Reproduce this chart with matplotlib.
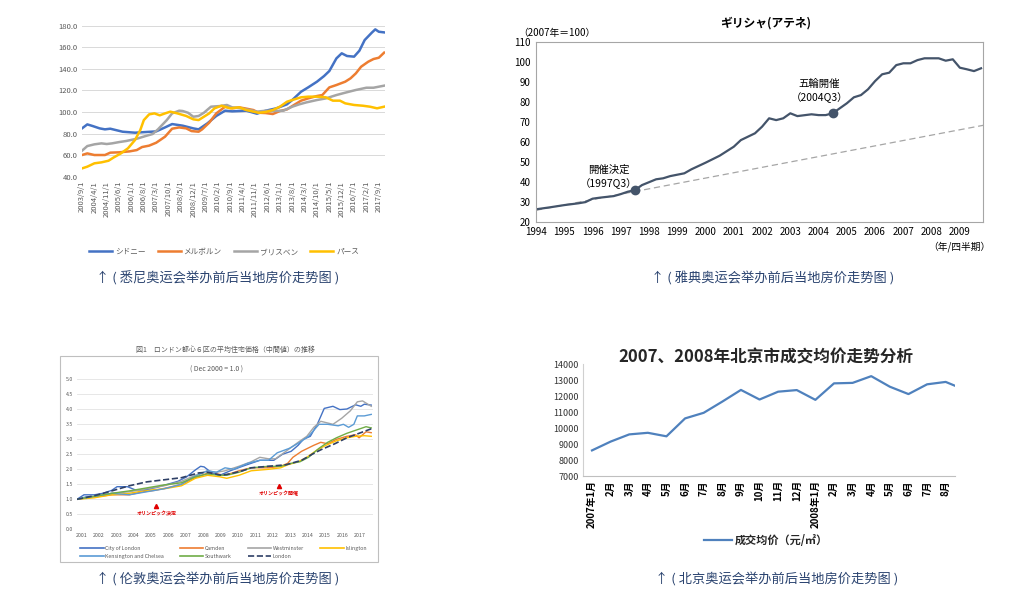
import numpy as np
import matplotlib.pyplot as plt
from matplotlib.lines import Line2D
from matplotlib.patches import Rectangle

plt.rcParams['font.family'] = ['Noto Sans CJK JP', 'DejaVu Sans']
SC = ['Noto Sans CJK SC', 'DejaVu Sans']

# ---- Sydney etc. (month index from 2003/9) ----
syd_ticks = ['2003/9/1', '2004/4/1', '2004/11/1', '2005/6/1', '2006/1/1', '2006/8/1',
             '2007/3/1', '2007/10/1', '2008/5/1', '2008/12/1', '2009/7/1', '2010/2/1',
             '2010/9/1', '2011/4/1', '2011/11/1', '2012/6/1', '2013/1/1', '2013/8/1',
             '2014/3/1', '2014/10/1', '2015/5/1', '2015/12/1', '2016/7/1', '2017/2/1',
             '2017/9/1']
syd_m = [0, 3, 6, 10, 13, 16, 19, 23, 30, 36, 42, 47, 51, 57, 63, 66, 71, 76, 81, 85,
         93, 99, 104, 110, 116, 119, 124, 128, 133, 137, 140, 144, 147, 150, 154, 157,
         160, 164, 166, 168, 171]
syd_v = [84.8, 88.5, 87, 84.8, 83.9, 84.5, 83.3, 81.7, 80.8, 81.4, 82, 85.7, 88.8, 87.3,
         84.8, 83.9, 89.5, 96.3, 101.2, 100.6, 101.2, 98.4, 101.2, 103.4, 107.1, 111.1,
         118.8, 122.8, 128.1, 133.3, 138, 149.7, 154.4, 151.9, 151.3, 156.8, 166.7, 173.5,
         176.6, 174.4, 173.8]
mel_m = [0, 3, 7, 13, 16, 21, 27, 31, 34, 38, 42, 47, 51, 55, 59, 62, 66, 68, 72, 76,
         81, 85, 89, 93, 97, 100, 104, 108, 112, 116, 119, 124, 128, 133, 136, 140, 144,
         149, 152, 155, 158, 162, 165, 168, 171]
mel_v = [60.1, 61.6, 60.1, 60.1, 62.3, 62.6, 63.5, 64.7, 67.5, 68.8, 71.5, 77.1, 84.5,
         85.7, 84.8, 82.3, 81.7, 83.9, 90.1, 98.7, 104.9, 103.4, 104.3, 103.1, 101.8, 99.3,
         99, 98.1, 100.9, 102.4, 105.5, 110.5, 112.6, 114.8, 115.7, 122.8, 125, 128.1,
         131.2, 135.8, 142, 146.6, 149.1, 150.3, 155]
bri_m = [0, 3, 7, 11, 14, 17, 21, 25, 31, 36, 40, 43, 48, 51, 55, 57, 60, 63, 66, 69,
         73, 78, 82, 85, 89, 93, 99, 104, 108, 114, 119, 123, 127, 133, 138, 144, 149,
         155, 161, 165, 171]
bri_v = [64.1, 68.4, 70, 70.9, 70.3, 70.9, 72.1, 73.1, 75.2, 77.7, 79.6, 83.9, 92.5,
         98.7, 101.2, 100.9, 99.3, 95.6, 96.3, 99.3, 104.9, 105.5, 106.5, 104.3, 103.7,
         102.4, 100.3, 101.2, 100.9, 101.2, 104.9, 107.1, 108.9, 111.1, 112.6, 115.7,
         117.9, 120.4, 122.5, 122.5, 124.4]
per_m = [0, 3, 7, 11, 15, 18, 22, 26, 30, 33, 35, 38, 41, 44, 47, 50, 54, 59, 63, 66,
         69, 72, 75, 79, 82, 84, 89, 93, 97, 100, 104, 108, 112, 116, 119, 124, 128, 133,
         138, 142, 146, 149, 154, 159, 163, 167, 171]
per_v = [47.7, 49.3, 52.4, 53.3, 54.8, 57.9, 61.6, 66.3, 74, 83.3, 92.5, 97.8, 98.7,
         96.9, 98.7, 100.3, 98.7, 96.3, 93.2, 92.5, 95.6, 98.7, 103.4, 105.8, 104.3, 103.4,
         104.3, 101.8, 100.3, 99.3, 100, 101.8, 104.9, 109.5, 111.1, 113.6, 114.2, 114.2,
         113.6, 110.5, 110.5, 108, 106.5, 105.8, 104.9, 103.4, 104.9]
syd_names = ['シドニー', 'メルボルン', 'ブリスベン', 'パース']

# ---- Athens (quarterly) ----
ath_x = [1994.0, 1994.5, 1995.0, 1995.5, 1995.75, 1996.0, 1996.25, 1996.75, 1997.0,
         1997.25, 1997.5, 1997.75, 1998.25, 1998.5, 1998.75, 1999.25, 1999.5, 2000.0,
         2000.5, 2001.0, 2001.25, 2001.75, 2002.0, 2002.25, 2002.5, 2002.75, 2003.0,
         2003.25, 2003.75, 2004.0, 2004.25, 2004.5, 2005.0, 2005.25, 2005.5, 2005.75,
         2006.0, 2006.25, 2006.5, 2006.75, 2007.0, 2007.25, 2007.5, 2007.75, 2008.25,
         2008.5, 2008.75, 2009.0, 2009.25, 2009.5, 2009.75]
ath_v = [26.2, 27.2, 28.3, 29.2, 29.8, 31.5, 32, 32.8, 33.8, 35, 35.8, 38.3, 41.2, 41.7,
         42.8, 44.2, 46.2, 49.5, 53, 57.5, 60.8, 64.2, 67.5, 71.7, 70.8, 71.7, 74.2, 72.8,
         73.7, 73.3, 73.3, 74.2, 79.2, 82.2, 83.3, 86.2, 90.3, 93.7, 94.5, 98.3, 99.2,
         99.2, 100.8, 101.7, 101.7, 100.5, 101.2, 97, 96.2, 95.3, 96.7]
trend_x = [1994.0, 2009.83]
trend_v = [25.7, 68.2]
ath_events = [1997.5, 2004.5]

# ---- London (decimal years, Dec 2000 = 1.0) ----
city_x = [2001.0, 2001.4, 2002.0, 2002.5, 2003.0, 2003.3, 2003.9, 2004.4, 2005.0, 2005.6,
          2006.2, 2006.8, 2007.3, 2007.8, 2008.1, 2008.3, 2008.7, 2009.2, 2009.8, 2010.5,
          2011.0, 2011.5, 2012.3, 2012.8, 2013.3, 2013.7, 2014.0, 2014.4, 2014.8, 2015.2,
          2015.7, 2016.1, 2016.5, 2017.0, 2017.3, 2017.5, 2017.9]
city_v = [1.0, 1.15, 1.15, 1.2, 1.3, 1.42, 1.42, 1.3, 1.33, 1.4, 1.5, 1.6, 1.75, 1.98,
          2.1, 2.08, 1.9, 1.8, 1.95, 2.1, 2.2, 2.3, 2.3, 2.5, 2.6, 2.8, 3.0, 3.1, 3.5,
          4.03, 4.1, 3.99, 4.01, 4.15, 4.1, 4.17, 4.14]
cam_x = [2001.0, 2002.0, 2003.0, 2004.0, 2004.8, 2005.5, 2006.3, 2007.0, 2007.7, 2008.4,
         2009.0, 2009.5, 2010.3, 2011.0, 2012.0, 2012.7, 2013.1, 2013.4, 2013.9, 2014.6,
         2015.0, 2015.4, 2015.9, 2016.5, 2017.0, 2017.2, 2017.6, 2017.9]
cam_v = [1.0, 1.08, 1.15, 1.15, 1.25, 1.3, 1.4, 1.5, 1.7, 1.85, 1.85, 1.8, 1.95, 2.05,
         2.05, 2.1, 2.2, 2.4, 2.6, 2.8, 2.9, 2.85, 3.0, 3.1, 3.15, 3.05, 3.25, 3.22]
wst_x = [2001.0, 2002.0, 2003.0, 2004.0, 2005.0, 2006.0, 2007.0, 2007.8, 2008.5, 2009.0,
         2009.5, 2010.3, 2011.0, 2011.5, 2012.0, 2012.4, 2013.0, 2013.7, 2014.2, 2014.6,
         2015.0, 2015.7, 2016.2, 2016.7, 2017.1, 2017.4, 2017.9]
wst_v = [1.0, 1.1, 1.2, 1.25, 1.35, 1.45, 1.6, 1.8, 1.95, 1.9, 1.95, 2.1, 2.25, 2.4,
         2.35, 2.35, 2.6, 2.9, 3.1, 3.4, 3.6, 3.5, 3.7, 3.95, 4.25, 4.28, 4.1]
isl_x = [2001.0, 2002.0, 2003.0, 2004.0, 2005.0, 2006.0, 2007.0, 2007.8, 2008.5, 2009.2,
         2009.6, 2010.3, 2011.0, 2012.0, 2012.7, 2013.1, 2013.7, 2014.2, 2014.8, 2015.3,
         2015.9, 2016.5, 2017.0, 2017.5, 2017.9]
isl_v = [1.0, 1.05, 1.15, 1.2, 1.3, 1.35, 1.45, 1.7, 1.8, 1.75, 1.7, 1.8, 1.95, 2.0,
         2.05, 2.15, 2.25, 2.4, 2.65, 2.8, 2.95, 3.05, 3.1, 3.12, 3.1]
ken_x = [2001.0, 2001.5, 2002.0, 2003.0, 2004.0, 2005.0, 2006.0, 2007.0, 2007.7, 2008.5,
         2009.0, 2009.5, 2010.0, 2010.8, 2011.5, 2012.0, 2012.5, 2013.2, 2013.8, 2014.3,
         2014.9, 2015.4, 2016.0, 2016.3, 2016.6, 2016.9, 2017.1, 2017.5, 2017.9]
ken_v = [1.0, 1.08, 1.1, 1.2, 1.15, 1.25, 1.35, 1.5, 1.75, 1.95, 1.9, 2.05, 2.0, 2.2,
         2.3, 2.3, 2.55, 2.7, 2.9, 3.1, 3.5, 3.5, 3.45, 3.5, 3.4, 3.5, 3.78, 3.78, 3.83]
swk_x = [2001.0, 2002.0, 2003.0, 2004.0, 2005.0, 2006.0, 2007.0, 2007.8, 2008.5, 2009.2,
         2009.6, 2010.3, 2011.0, 2012.0, 2012.7, 2013.3, 2013.8, 2014.3, 2014.9, 2015.4,
         2015.9, 2016.5, 2017.0, 2017.6, 2017.9]
swk_v = [1.0, 1.1, 1.2, 1.28, 1.38, 1.48, 1.55, 1.75, 1.85, 1.8, 1.8, 1.9, 2.05, 2.1,
         2.1, 2.2, 2.25, 2.4, 2.7, 2.9, 3.05, 3.2, 3.3, 3.42, 3.38]
lon_x = [2001.0, 2002.0, 2003.0, 2004.0, 2005.0, 2006.0, 2007.0, 2008.0, 2008.5, 2009.3,
         2009.8, 2010.5, 2011.0, 2012.0, 2013.0, 2013.9, 2014.5, 2015.0, 2015.8, 2016.5,
         2017.2, 2017.9]
lon_v = [1.0, 1.12, 1.28, 1.45, 1.58, 1.65, 1.72, 1.88, 1.9, 1.8, 1.85, 1.95, 2.05, 2.1,
         2.15, 2.3, 2.5, 2.65, 2.85, 3.05, 3.2, 3.35]
ldn_years = list(range(2001, 2018))
oly_t = [2005.55, 2012.6]
oly_v = [0.78, 1.46]
oly_labels = ['オリンピック決定', 'オリンピック開催']

# ---- Beijing (monthly 2007/1 - 2008/9) ----
bj_labels = ['2007年1月', '2月', '3月', '4月', '5月', '6月', '7月', '8月', '9月', '10月',
             '11月', '12月', '2008年1月', '2月', '3月', '4月', '5月', '6月', '7月', '8月']
bj_v = [8600, 9150, 9600, 9700, 9480, 10600, 10950, 11650, 12380, 11780, 12270, 12370,
        11760, 12790, 12820, 13240, 12580, 12120, 12730, 12880, 12400]

captions = ['↑ ( 悉尼奥运会举办前后当地房价走势图 )', '↑ ( 雅典奥运会举办前后当地房价走势图 )',
            '↑ ( 伦敦奥运会举办前后当地房价走势图 )', '↑ ( 北京奥运会举办前后当地房价走势图 )']

W, H = 1031, 598
fig = plt.figure(figsize=(W / 100, H / 100), dpi=100)


def box(l, t, r, b):
    return [l / W, 1 - b / H, (r - l) / W, (b - t) / H]


def px(x, y):
    return x / W, 1 - y / H


# ========== panel 1 : Australia ==========
ax1 = fig.add_axes(box(82, 25.7, 385, 176.7))
cols1 = ['#4472C4', '#ED7D31', '#A5A5A5', '#FFC000']
for m, v, c, n in zip([syd_m, mel_m, bri_m, per_m], [syd_v, mel_v, bri_v, per_v], cols1, syd_names):
    ax1.plot(m, v, color=c, lw=1.8, label=n, solid_joinstyle='round')
ax1.set_xlim(0, 171.5)
ax1.set_ylim(40, 180)
ax1.set_yticks(np.arange(40, 181, 20))
ax1.yaxis.set_major_formatter('{x:.1f}')
ax1.set_xticks([7 * i for i in range(len(syd_ticks))])
ax1.set_xticklabels(syd_ticks, rotation=90)
ax1.grid(axis='y', color='#D9D9D9', lw=0.7)
ax1.set_axisbelow(True)
for s in ax1.spines.values():
    s.set_visible(False)
ax1.tick_params(length=0, labelsize=5.5, colors='#595959', pad=3)
h, l = ax1.get_legend_handles_labels()
fig.legend(h, l, loc='center', bbox_to_anchor=px(224, 252), ncol=4, frameon=False,
           fontsize=5.5, handlelength=3.0, columnspacing=1.6, handletextpad=0.4,
           labelcolor='#595959')

# ========== panel 2 : Athens ==========
ax2 = fig.add_axes(box(536, 41.7, 983.3, 221.7))
ax2.plot(trend_x, trend_v, color='#A6A6A6', lw=0.9, ls=(0, (5, 3)))
ax2.plot(ath_x, ath_v, color='#44546A', lw=1.6)
ev_v = [ath_v[ath_x.index(x)] for x in ath_events]
ax2.plot(ath_events, ev_v, 'o', color='#44546A', ms=6)
ax2.set_xlim(1994, 2009.83)
ax2.set_ylim(20, 110)
ax2.set_yticks(np.arange(20, 111, 10))
ax2.set_xticks(range(1994, 2010))
ax2.tick_params(length=0, labelsize=7, colors='black', pad=4)
for s in ax2.spines.values():
    s.set_color('#A6A6A6')
    s.set_linewidth(0.8)
fig.text(*px(766, 23), 'ギリシャ(アテネ)', ha='center', va='center', fontsize=8.5, fontweight='bold')
fig.text(*px(557, 33), '（2007年＝100）', ha='center', va='center', fontsize=7)
fig.text(*px(959, 247), '（年/四半期）', ha='center', va='center', fontsize=7)
ax2.annotate('開催決定\n（1997Q3）', (ath_events[0], ev_v[0]), xytext=(-19, 9.5),
             textcoords='offset points', ha='center', va='center', fontsize=7.5, linespacing=1.3)
ax2.annotate('五輪開催\n（2004Q3）', (ath_events[1], ev_v[1]), xytext=(-9.5, 16),
             textcoords='offset points', ha='center', va='center', fontsize=7.5, linespacing=1.3)

# ========== panel 3 : London ==========
fig.add_artist(Rectangle(px(60, 562), 318 / W, 206 / H, transform=fig.transFigure,
                         fill=False, edgecolor='#BFBFBF', lw=0.8))
fig.text(*px(225, 350), '図1　ロンドン都心６区の平均住宅価格（中間値）の推移', ha='center',
         va='center', fontsize=5, color='#595959')
fig.text(*px(217, 370), '( Dec 2000 = 1.0 )', ha='center', va='center', fontsize=5, color='#595959')
ax3 = fig.add_axes(box(77, 379.3, 373, 529.3))
ldn = [(city_x, city_v, '#4472C4', '-', 'City of London'),
       (ken_x, ken_v, '#5B9BD5', '-', 'Kensington and Chelsea'),
       (cam_x, cam_v, '#ED7D31', '-', 'Camden'),
       (swk_x, swk_v, '#70AD47', '-', 'Southwark'),
       (wst_x, wst_v, '#A5A5A5', '-', 'Westminster'),
       (lon_x, lon_v, '#2F4066', '--', 'London'),
       (isl_x, isl_v, '#FFC000', '-', 'Islington')]
order = [2, 6, 0, 4, 1, 3, 5]
for i in order:
    x, v, c, ls, n = ldn[i]
    ax3.plot(x, v, color=c, ls=ls, lw=1.0 if ls == '-' else 1.2)
ax3.plot(oly_t, oly_v, '^', color='#E00000', ms=3)
for t, v, lab in zip(oly_t, oly_v, oly_labels):
    ax3.annotate(lab, (t, v), xytext=(0, -4), textcoords='offset points', ha='center',
                 va='top', fontsize=3.6, color='#E00000', fontweight='bold')
ax3.set_xlim(2001, 2018)
ax3.set_ylim(0, 5)
ax3.set_yticks(np.arange(0, 5.01, 0.5))
ax3.yaxis.set_major_formatter('{x:.1f}')
ax3.set_xticks([y + 0.25 for y in ldn_years])
ax3.set_xticklabels(ldn_years)
ax3.grid(axis='y', color='#E3E3E3', lw=0.6)
ax3.set_axisbelow(True)
for s in ax3.spines.values():
    s.set_visible(False)
ax3.tick_params(length=0, labelsize=3.8, colors='#595959', pad=3)
hs = [Line2D([], [], color=d[2], ls=d[3], lw=1.2) for d in ldn]
fig.legend(hs, [d[4] for d in ldn], loc='upper left', bbox_to_anchor=px(75, 541), ncol=4,
           frameon=False, fontsize=3.8, handlelength=4.5, columnspacing=3.0,
           labelcolor='#595959', labelspacing=0.6, handletextpad=0.3)

# ========== panel 4 : Beijing ==========
ax4 = fig.add_axes(box(582.7, 364, 955, 476))
bj_line, = ax4.plot(range(len(bj_v)), bj_v, color='#4F81BD', lw=1.6)
ax4.set_xlim(-0.5, len(bj_labels) - 0.5)
ax4.set_ylim(7000, 14000)
ax4.set_yticks(np.arange(7000, 14001, 1000))
ax4.set_xticks(range(len(bj_labels)))
ax4.set_xticklabels(bj_labels, rotation=90, fontweight='bold', family=SC, fontsize=7)
ax4.tick_params(axis='y', labelsize=6.5, colors='#333333')
ax4.tick_params(length=0, pad=3)
ax4.spines['top'].set_visible(False)
ax4.spines['right'].set_visible(False)
ax4.spines['left'].set_color('#D0D0D0')
ax4.spines['bottom'].set_color('#BFBFBF')
fig.text(*px(766, 357), '2007、2008年北京市成交均价走势分析', ha='center', va='center',
         fontsize=12, fontweight='bold', family=SC, color='#262626')
fig.legend([bj_line], ['成交均价（元/㎡）'], loc='center', bbox_to_anchor=px(766, 540),
           frameon=False, prop={'family': SC, 'size': 8, 'weight': 'bold'}, handlelength=2.5,
           handletextpad=0.2, labelcolor='#262626')

# ========== captions ==========
for (x, y), txt in zip([(218, 278), (773, 278), (218, 580), (777, 580)], captions):
    fig.text(*px(x, y), txt, ha='center', va='center', fontsize=9.5, family=SC, color='#2B4470')

fig.savefig('out.png', dpi=100)
